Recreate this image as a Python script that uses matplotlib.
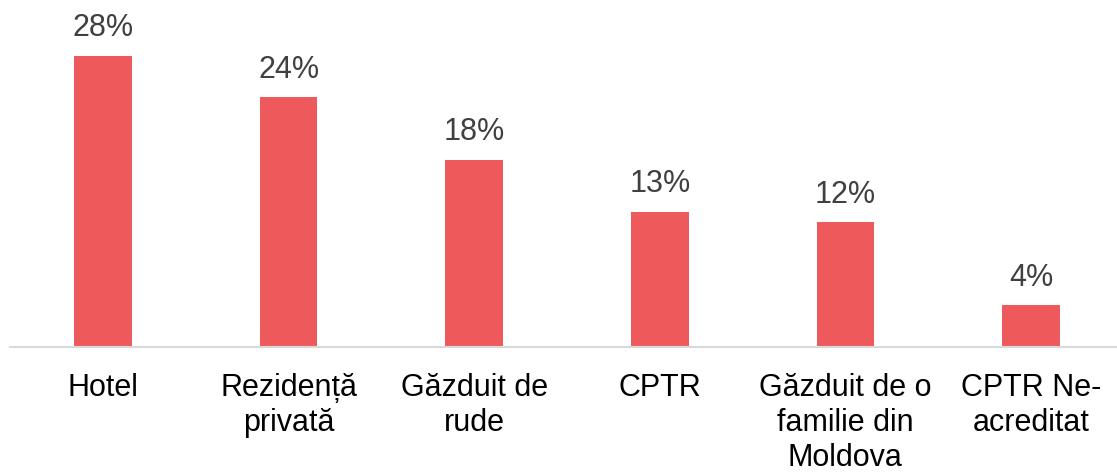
import matplotlib.pyplot as plt
from matplotlib import font_manager

categorii = ['Hotel', 'Rezidență\nprivată', 'Găzduit de\nrude', 'CPTR',
             'Găzduit de o\nfamilie din\nMoldova', 'CPTR Ne-\nacreditat']
procente = [28, 24, 18, 13, 12, 4]

# font ingust daca exista, altfel Liberation Sans
familii = [f.name for f in font_manager.fontManager.ttflist]
if 'Liberation Sans Narrow' in familii:
    plt.rcParams['font.family'] = ['Liberation Sans Narrow', 'DejaVu Sans']
else:
    plt.rcParams['font.family'] = ['Liberation Sans', 'DejaVu Sans']

fig = plt.figure(figsize=(11.17, 4.73), dpi=100)
ax = fig.add_axes([10.2 / 1117, 126 / 473, 1113.6 / 1117, 312 / 473])

x = list(range(len(categorii)))
bars = ax.bar(x, procente, width=0.31, color='#ee5a5b')
ax.set_xlim(-0.5, len(categorii) - 0.5)
ax.set_ylim(0, 30)

for b, v in zip(bars, procente):
    ax.annotate(f'{v}%', (b.get_x() + b.get_width() / 2, v),
                xytext=(0, 9), textcoords='offset points',
                ha='center', va='bottom', fontsize=22, color='#404040')

ax.set_xticks(x)
ax.set_xticklabels(categorii, fontsize=22, color='black', linespacing=1.2)
ax.tick_params(axis='x', length=0, pad=19)
ax.set_yticks([])
for s in ['top', 'left', 'right']:
    ax.spines[s].set_visible(False)
ax.spines['bottom'].set_color('#d9d9d9')
ax.spines['bottom'].set_linewidth(1.5)

fig.savefig('out.png', dpi=100)
